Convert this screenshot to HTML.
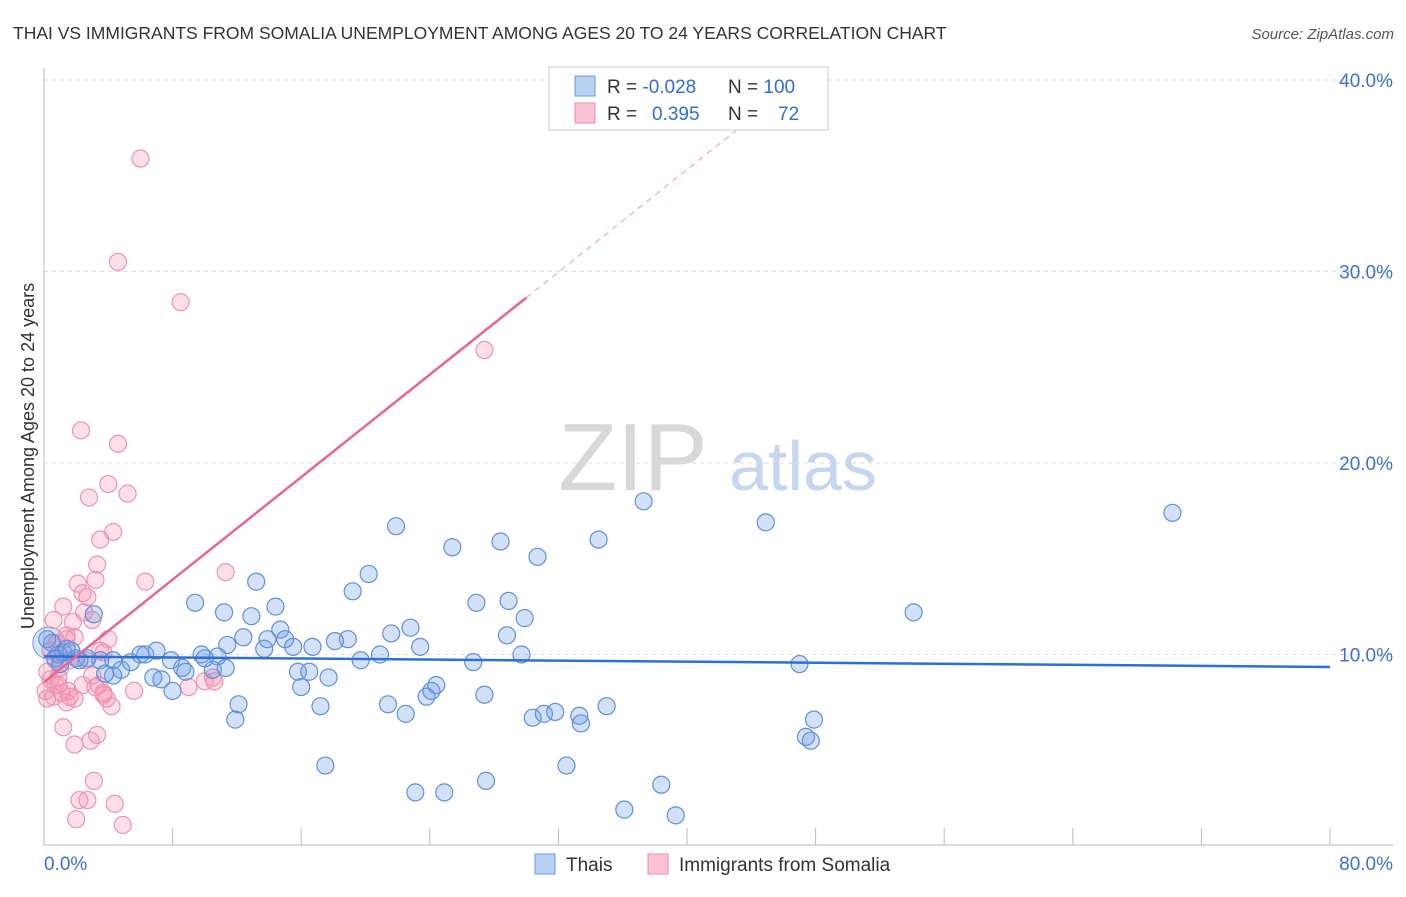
<!DOCTYPE html>
<html><head><meta charset="utf-8"><style>
body{margin:0;background:#fff;font-family:"Liberation Sans",sans-serif}
svg text{font-family:"Liberation Sans",sans-serif}
</style></head><body>
<svg id="chart" width="1406" height="892" xmlns="http://www.w3.org/2000/svg">
<text x="13" y="39" font-size="17.5" fill="#333">THAI VS IMMIGRANTS FROM SOMALIA UNEMPLOYMENT AMONG AGES 20 TO 24 YEARS CORRELATION CHART</text>
<text x="1394" y="39" font-size="15" fill="#555" text-anchor="end" font-style="italic">Source: ZipAtlas.com</text>
<g>
<text x="633" y="490" font-size="96" fill="#d8d8d8" font-family="Liberation Serif, serif" text-anchor="middle">ZIP</text>
<text x="803" y="490" font-size="70" fill="#c5d6ee" text-anchor="middle">atlas</text>
</g>
<g id="grid"></g>
<g id="axes"></g>
<g id="marks"></g>
<text transform="translate(34,456) rotate(-90)" font-size="18" fill="#333" text-anchor="middle">Unemployment Among Ages 20 to 24 years</text>
<g>
<rect x="549" y="67" width="279" height="63" fill="#fff" stroke="#ccc"/>
<rect x="575" y="76" width="20" height="20" fill="#b8d0f2" stroke="#6b9ae0"/>
<rect x="575" y="103" width="20" height="20" fill="#f9c3d3" stroke="#ec8aa8"/>
<text x="607" y="93" font-size="19" fill="#333">R = <tspan fill="#2f6ed8">-0.028</tspan></text>
<text x="728" y="93" font-size="19" fill="#333">N = <tspan fill="#2f6ed8">100</tspan></text>
<text x="607" y="120" font-size="19" fill="#333">R =  <tspan fill="#2f6ed8" x="652">0.395</tspan></text>
<text x="728" y="120" font-size="19" fill="#333">N = <tspan fill="#2f6ed8" x="778">72</tspan></text>
</g>
<g>
<rect x="535" y="854" width="20" height="20" fill="#b8d0f2" stroke="#6b9ae0"/>
<text x="566" y="871" font-size="19" fill="#333">Thais</text>
<rect x="648" y="854" width="20" height="20" fill="#f9c3d3" stroke="#ec8aa8"/>
<text x="679" y="871" font-size="19" fill="#333">Immigrants from Somalia</text>
</g>
</svg>
<script>
const yTicks=[10,20,30,40];
const yTickLabels=["10.0%","20.0%","30.0%","40.0%"];
const xTicks=[0,8,16,24,32,40,48,56,64,72,80];
const xEndLabels=["0.0%","80.0%"];
const thaiX=[70.2,54.1,44.9,37.3,34.5,28.4,30.7,25.4,21.9,20.2,19.2,26.9,28.9,29.9,28.8,29.7,26.7,22.8,21.6,23.4,20.9,19.7,18.9,18.1,16.7,15.8,16.5,17.7,16.0,14.4,14.7,13.9,15.0,15.5,13.7,12.9,12.4,13.2,11.2,11.4,10.8,10.5,10.0,9.8,9.4,8.6,8.8,7.9,7.3,8.0,6.8,7.0,6.0,6.3,5.4,4.8,4.3,3.5,3.1,2.7,2.2,1.7,1.2,0.9,0.5,0.2,0.7,1.4,12.1,11.9,17.2,17.5,21.4,22.5,23.8,24.1,24.4,27.4,30.4,31.1,31.8,33.3,33.4,35.0,32.5,23.1,24.9,27.5,36.1,38.4,39.3,47.0,47.9,47.4,47.7,4.3,3.8,11.3,1.0,2.0];
const thaiY=[17.4,12.2,16.9,18.0,16.0,15.9,15.1,15.6,16.7,14.2,13.3,12.7,12.8,11.9,11.0,10.0,9.6,11.4,11.1,10.4,10.0,9.7,10.8,10.7,10.4,9.1,9.1,8.8,8.3,12.5,11.3,10.8,10.8,10.4,10.3,12.0,10.9,13.8,12.2,10.5,9.9,9.2,9.8,10.0,12.7,9.3,9.1,9.7,8.7,8.1,8.8,10.2,10.0,10.0,9.6,9.2,9.7,9.7,12.1,9.8,9.7,10.2,10.1,10.0,10.6,10.8,9.8,10.3,7.4,6.6,7.3,4.2,7.4,6.9,7.8,8.1,8.4,7.9,6.7,6.9,7.0,6.8,6.4,7.3,4.2,2.8,2.8,3.4,1.9,3.2,1.6,9.5,6.6,5.7,5.5,8.9,9.0,9.3,9.5,9.8];
const somX=[6.0,4.6,8.5,27.4,2.3,4.6,2.8,5.2,4.0,4.3,3.5,6.3,11.3,2.1,3.2,3.3,1.2,2.4,2.7,2.5,1.8,3.0,4.0,1.9,3.7,1.4,0.8,0.4,0.7,1.0,1.6,0.4,0.7,1.1,0.6,0.2,1.5,1.9,2.4,3.2,3.4,3.7,3.9,4.2,5.6,9.0,10.0,10.6,1.2,1.9,2.9,3.3,3.1,2.2,2.7,4.4,2.0,4.9,1.6,0.9,0.2,3.0,3.5,1.4,2.6,1.4,0.6,0.9,3.7,10.5,0.1];
const somY=[35.9,30.5,28.4,25.9,21.7,21.0,18.2,18.4,18.9,16.4,16.0,13.8,14.3,13.7,13.9,14.7,12.5,13.2,13.0,12.2,11.7,11.8,10.8,10.9,10.1,11.0,10.6,10.2,9.7,9.3,9.7,8.7,8.4,8.0,7.8,7.7,8.1,7.7,8.4,8.3,8.4,8.0,7.7,7.3,8.1,8.3,8.6,8.6,6.2,5.3,5.5,5.8,3.4,2.4,2.4,2.2,1.4,1.1,7.8,8.8,9.1,8.9,10.2,10.8,9.7,7.5,11.8,8.4,7.9,8.8,8.1];
const thaiTrend=[9.9,9.35];
const somTrend=[8.56,0.669];
const X=v=>44+v*16.075, Y=v=>846-v*19.15;
const NS="http://www.w3.org/2000/svg";
function mk(p,t,a){const e=document.createElementNS(NS,t);for(const k in a)e.setAttribute(k,a[k]);p.appendChild(e);return e;}
const grid=document.getElementById('grid'),axes=document.getElementById('axes'),marks=document.getElementById('marks');
yTicks.forEach((t,i)=>{
 const l=mk(grid,'line',{x1:44,x2:1393,y1:Y(t),y2:Y(t),stroke:'#ddd','stroke-dasharray':'4,4'});
 
 
 const tx=mk(axes,'text',{x:1393,y:Y(t)+7,'font-size':19,fill:'#3a70d8','text-anchor':'end'});
 tx.textContent=yTickLabels[i];
 
 
});
const ax=mk(axes,'path',{d:'M44 68V845H1393',stroke:'#bbb',fill:'none'});


xTicks.slice(1).forEach(t=>{
 const l=mk(axes,'line',{x1:X(t),x2:X(t),y1:828,y2:845,stroke:'#bbb'});
 
 
});
[[0,'start',44],[80,'end',1393]].forEach((d,i)=>{
 const tx=mk(axes,'text',{x:d[2],y:870,'font-size':19,fill:'#3a70d8','text-anchor':d[1]});
 tx.textContent=xEndLabels[i];
 
 
});
const big=mk(marks,'circle',{cx:X(0.3),cy:Y(10.6),r:16,fill:'rgba(120,160,230,0.3)',stroke:'#6b9ae0'});


somX.forEach((v,i)=>{
 const c=mk(marks,'circle',{cx:X(v),cy:Y(somY[i]),r:8.5,fill:'rgba(244,150,180,0.3)',stroke:'#ee94b0','stroke-width':1.2});
 
 
});
thaiX.forEach((v,i)=>{
 const c=mk(marks,'circle',{cx:X(v),cy:Y(thaiY[i]),r:8.5,fill:'rgba(110,155,230,0.3)',stroke:'#5f90dc','stroke-width':1.2});
 
 
});
const tl=mk(marks,'line',{x1:X(0),y1:Y(thaiTrend[0]),x2:X(80),y2:Y(thaiTrend[1]),stroke:'#2c6fd6','stroke-width':2.5});


const sf=x=>somTrend[0]+somTrend[1]*x;
const sl=mk(marks,'line',{x1:X(0),y1:Y(sf(0)),x2:X(30),y2:Y(sf(30)),stroke:'#e8658f','stroke-width':2.5});


const sd=mk(marks,'line',{x1:X(30),y1:Y(sf(30)),x2:X(43.3),y2:Y(sf(43.3)),stroke:'#f0a8bf','stroke-width':1.2,'stroke-dasharray':'6,5'});


</script>
</body></html>
